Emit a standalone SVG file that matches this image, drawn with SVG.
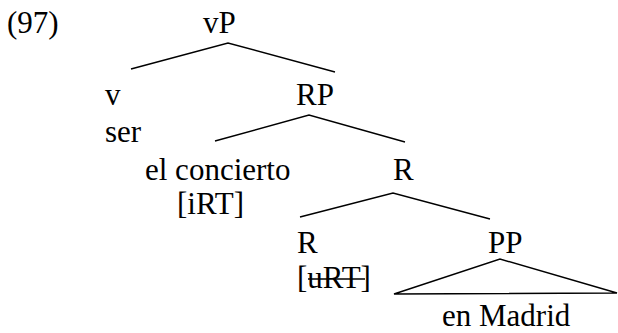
<svg xmlns="http://www.w3.org/2000/svg" width="618" height="333" viewBox="0 0 618 333">
<style>
text{font-size:31px;fill:#000}
.e{stroke:#000;stroke-width:1.4;fill:none}
</style>
<rect width="618" height="333" fill="#fff"/>
<g font-family="'Liberation Serif', 'Times New Roman', Times, serif">
<g id="label"><text x="7" y="33">(97)</text></g>
<g id="vP"><text x="203" y="33">vP</text></g>
<g id="v"><text x="105" y="105">v</text><text x="105" y="142">ser</text></g>
<g id="RP"><text x="296" y="105">RP</text></g>
<g id="DP"><text x="145" y="180">el concierto</text><text x="177" y="214">[iRT]</text></g>
<g id="Rbar"><text x="393" y="180">R</text></g>
<g id="R"><text x="297" y="253">R</text><text x="297" y="288">[uRT]</text><line class="e" x1="308" y1="279" x2="365" y2="279"/></g>
<g id="PP"><text x="488" y="253">PP</text><text x="442" y="326">en Madrid</text></g>
</g>
<g id="connectors">
<polyline class="e" points="131,69 228,43 335,72"/>
<polyline class="e" points="215,141 309,115 405,142"/>
<polyline class="e" points="300,217 393,193 490,219"/>
<polygon class="e" points="394,294 500,259 617,293"/>
</g>
</svg>
